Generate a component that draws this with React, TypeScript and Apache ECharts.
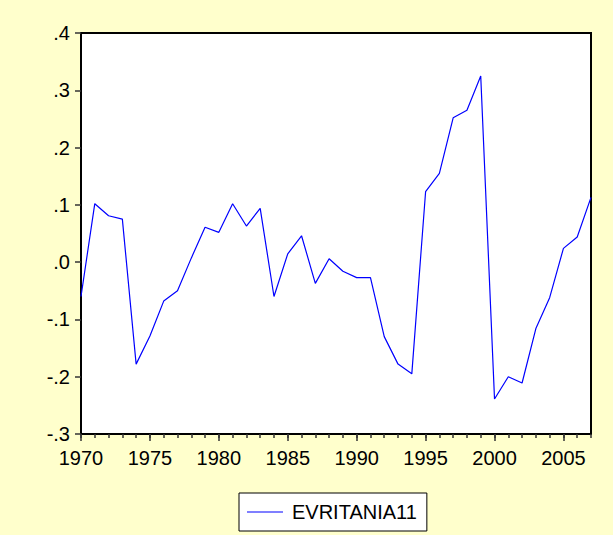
import React, { useEffect, useRef } from "react";
import * as echarts from "echarts";

// Annual observations, 1970–2007
const years: string[] = [];
for (let y = 1970; y <= 2007; y++) years.push(String(y));

const evritania11: number[] = [
  -0.06, 0.102, 0.081, 0.075, -0.178, -0.129, -0.068, -0.05, 0.007, 0.061,
  0.052, 0.102, 0.063, 0.094, -0.06, 0.0145, 0.046, -0.037, 0.006, -0.016,
  -0.027, -0.027, -0.13, -0.178, -0.195, 0.123, 0.155, 0.252, 0.265, 0.325,
  -0.239, -0.2, -0.211, -0.116, -0.062, 0.024, 0.044, 0.113,
];

const seriesName = "EVRITANIA11";

const fmtY = (v: number) => {
  const s = v.toFixed(1);
  return s.replace(/^(-?)0\./, "$1.");
};

export default function App() {
  const ref = useRef<HTMLDivElement>(null);

  useEffect(() => {
    if (!ref.current) return;
    const chart = echarts.init(ref.current, null, { renderer: "svg" });
    const font = "Arial, 'Liberation Sans', sans-serif";
    chart.setOption({
      animation: false,
      backgroundColor: "#FFFFCC",
      textStyle: { fontFamily: font },
      grid: {
        left: 81,
        top: 33,
        right: 22,
        bottom: 101,
        show: true,
        backgroundColor: "#ffffff",
        borderColor: "#000000",
        borderWidth: 2,
      },
      xAxis: [
        {
          type: "category",
          data: years,
          boundaryGap: false,
          axisLine: { onZero: false, lineStyle: { color: "#000", width: 2 } },
          axisTick: {
            interval: (i: number) => i % 5 === 0,
            length: 7,
            lineStyle: { color: "#333", width: 1.5 },
          },
          axisLabel: {
            interval: 4,
            color: "#000",
            fontSize: 20,
            fontFamily: font,
            margin: 14,
          },
          splitLine: { show: false },
        },
        {
          type: "category",
          data: years,
          boundaryGap: false,
          position: "bottom",
          axisLine: { show: false, onZero: false },
          axisTick: {
            interval: 0,
            length: 4,
            lineStyle: { color: "#333", width: 1.5 },
          },
          axisLabel: { show: false },
          splitLine: { show: false },
        },
      ],
      yAxis: {
        type: "value",
        min: -0.3,
        max: 0.4,
        interval: 0.1,
        axisLine: { show: true, onZero: false, lineStyle: { color: "#000", width: 2 } },
        axisTick: { show: true, length: 6, lineStyle: { color: "#333", width: 1.5 } },
        axisLabel: {
          color: "#000",
          fontSize: 20,
          fontFamily: font,
          margin: 11,
          formatter: fmtY,
        },
        splitLine: { show: false },
      },
      legend: {
        left: 239,
        top: 493,
        padding: [9, 10, 9, 8],
        backgroundColor: "#ffffff",
        borderColor: "#000000",
        borderWidth: 1,
        icon: "rect",
        itemWidth: 36,
        itemHeight: 1.2,
        textStyle: {
          color: "#000",
          fontSize: 20,
          fontFamily: font,
          padding: [0, 0, 0, 4],
        },
        data: [seriesName],
      },
      series: [
        {
          name: seriesName,
          type: "line",
          data: evritania11,
          xAxisIndex: 0,
          symbol: "none",
          lineStyle: { color: "#0000FF", width: 1.2 },
          itemStyle: { color: "#0000FF" },
        },
      ],
    });
    return () => chart.dispose();
  }, []);

  return (
    <div
      ref={ref}
      style={{ position: "fixed", left: 0, top: 0, width: 613, height: 535 }}
    />
  );
}
